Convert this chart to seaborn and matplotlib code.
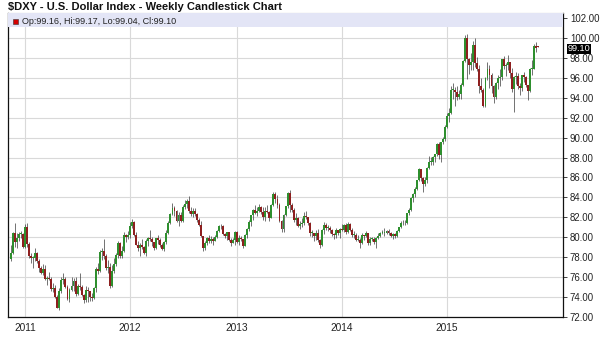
import numpy as np
import pandas as pd
import matplotlib
matplotlib.use("Agg")
import matplotlib.pyplot as plt
from matplotlib.patches import Rectangle
import matplotlib.transforms as mtransforms
import seaborn as sns

# weekly bars, first week starts Monday 2010-11-15
first_week = "2010-11-15"

open_ = [
    # 2010
    77.8, 78.4, 80.4, 79.5, 79.9, 80.3, 80.3,
    # 2011
    79.0, 81.0, 79.3, 78.1, 77.9, 77.9, 78.4, 77.6, 76.9, 76.4, 76.8, 75.8, 75.9,
    75.8, 74.8, 74.9, 74.0, 72.9, 74.6, 75.7, 75.8, 75.0, 73.8, 74.7, 75.1, 75.6,
    74.3, 75.1, 75.0, 74.2, 73.7, 74.7, 74.6, 74.0, 73.9, 74.9, 76.8, 76.6, 78.5,
    78.6, 78.1, 76.9, 77.0, 75.1, 76.6, 77.3, 78.2, 79.4, 78.1, 78.6, 80.2, 80.0,
    # 2012
    80.2, 81.1, 81.5, 80.2, 79.2, 78.9, 79.2, 79.0, 78.4, 79.6, 79.9, 79.8, 79.5,
    78.9, 79.9, 79.7, 79.2, 78.8, 79.5, 80.4, 81.4, 82.3, 82.9, 82.6, 81.6, 82.2,
    81.6, 83.0, 83.3, 83.6, 82.6, 82.3, 82.6, 82.3, 81.7, 81.2, 80.1, 78.9, 79.4,
    79.9, 79.6, 79.8, 79.6, 80.0, 80.6, 81.1, 81.1, 80.3, 80.1, 80.5, 79.7, 79.4, 79.7,
    # 2013
    80.5, 79.5, 79.9, 79.8, 79.1, 80.2, 80.8, 81.5, 82.2, 82.7, 82.4, 82.6, 83.0,
    82.5, 82.0, 82.6, 82.5, 81.9, 83.2, 84.3, 83.8, 83.2, 81.6, 80.8, 82.2, 83.1,
    84.4, 83.2, 82.7, 81.7, 81.9, 81.1, 81.3, 81.4, 82.1, 82.0, 81.4, 80.4, 80.4,
    80.1, 80.4, 79.7, 79.2, 80.7, 81.2, 80.9, 80.9, 80.7, 80.3, 80.2, 80.7, 80.4,
    # 2014
    80.8, 80.7, 81.2, 80.5, 81.3, 80.7, 80.2, 80.2, 79.7, 79.7, 79.4, 80.2, 80.1,
    80.4, 79.4, 79.8, 79.8, 79.5, 79.9, 80.1, 80.4, 80.4, 80.4, 80.6, 80.4, 80.1,
    80.3, 80.1, 80.6, 81.0, 81.4, 81.4, 81.4, 82.4, 82.7, 83.9, 84.3, 84.8, 85.7,
    86.8, 85.9, 85.3, 85.7, 86.9, 87.6, 87.6, 88.1, 88.4, 89.4, 88.3, 89.6, 89.9,
    # 2015
    91.1, 92.2, 92.5, 94.8, 94.8, 94.6, 94.1, 94.4, 95.3, 97.7, 100.0, 97.9, 97.3,
    97.6, 99.3, 97.5, 96.9, 95.2, 94.8, 93.2, 96.0, 96.9, 96.3, 95.2, 94.1, 95.5,
    96.0, 96.1, 97.9, 97.2, 97.3, 97.6, 96.5, 94.9, 96.1, 96.2, 95.2, 95.0, 96.3,
    96.1, 95.3, 94.7, 96.9, 96.9, 99.2, 99.16,
]

high = [
    # 2010
    79.2, 80.5, 81.4, 80.4, 80.5, 80.6, 80.4,
    # 2011
    81.3, 81.4, 79.5, 78.4, 78.1, 78.9, 78.5, 77.8, 77.1, 77.3, 77.2, 76.1, 76.5,
    76.0, 75.4, 75.2, 74.2, 74.9, 76.0, 76.4, 76.0, 75.2, 74.9, 76.0, 75.9, 76.0,
    75.3, 76.4, 75.2, 74.3, 75.1, 75.0, 74.6, 74.4, 75.0, 77.0, 77.4, 78.7, 78.9,
    79.8, 78.3, 77.7, 77.4, 77.2, 77.9, 78.4, 79.6, 79.5, 79.1, 80.5, 80.3, 80.6,
    # 2012
    81.5, 81.8, 81.6, 80.5, 79.6, 79.4, 79.8, 79.1, 79.8, 80.0, 80.7, 80.0, 79.5,
    79.9, 80.2, 79.9, 79.4, 79.6, 80.7, 81.6, 82.4, 83.4, 83.1, 82.7, 82.5, 82.5,
    83.2, 83.7, 83.8, 84.1, 83.0, 82.9, 82.9, 82.4, 81.9, 81.6, 80.1, 79.6, 80.0,
    80.2, 80.1, 80.0, 80.2, 80.7, 81.2, 81.3, 81.2, 80.4, 80.5, 80.5, 79.9, 79.9, 80.6,
    # 2013
    80.6, 80.2, 80.1, 79.8, 80.3, 80.9, 81.7, 82.2, 82.8, 83.2, 83.0, 83.3, 83.1,
    83.0, 83.0, 83.2, 82.6, 83.3, 84.5, 84.5, 84.2, 83.4, 81.7, 82.3, 83.1, 84.5,
    84.75, 83.4, 82.9, 82.4, 82.0, 81.6, 81.9, 82.5, 82.6, 82.0, 81.5, 80.7, 80.4,
    80.7, 80.8, 79.8, 80.8, 81.5, 81.4, 81.2, 81.1, 80.8, 80.4, 80.9, 80.7, 80.9,
    # 2014
    81.3, 81.3, 81.4, 81.5, 81.4, 80.9, 80.6, 80.4, 80.2, 79.9, 80.4, 80.2, 80.6,
    80.4, 80.0, 80.0, 80.0, 80.0, 80.4, 80.5, 80.7, 80.9, 80.7, 80.8, 80.5, 80.4,
    80.4, 80.7, 81.0, 81.6, 81.7, 81.7, 82.4, 82.9, 84.0, 84.4, 85.0, 85.7, 86.9,
    86.8, 86.0, 86.0, 87.0, 88.2, 88.1, 88.2, 88.4, 89.5, 89.6, 89.6, 90.1, 91.3,
    # 2015
    92.5, 93.0, 95.2, 95.5, 95.1, 95.2, 94.8, 95.5, 97.8, 100.3, 100.4, 98.0, 98.5,
    99.7, 100.0, 98.1, 97.3, 96.0, 95.0, 96.1, 97.6, 97.3, 96.5, 95.3, 95.6, 96.3,
    96.9, 97.9, 98.2, 97.5, 98.3, 97.6, 97.0, 96.2, 96.6, 96.5, 95.5, 96.3, 96.6,
    96.2, 95.3, 97.0, 97.8, 99.4, 99.6, 99.17,
]

low = [
    # 2010
    77.6, 78.3, 79.0, 78.9, 79.6, 79.9, 78.9,
    # 2011
    78.9, 79.0, 77.9, 77.4, 76.9, 77.6, 77.4, 76.5, 76.3, 76.2, 75.7, 75.2, 75.7,
    74.6, 74.5, 73.9, 72.9, 72.7, 74.4, 75.3, 74.9, 73.7, 73.5, 74.6, 74.6, 74.1,
    74.2, 74.7, 74.1, 73.4, 73.5, 73.5, 73.6, 73.6, 73.8, 74.5, 76.3, 76.5, 77.7,
    77.8, 76.7, 76.4, 74.9, 75.0, 76.4, 77.1, 77.9, 77.9, 77.9, 78.5, 79.5, 79.8,
    # 2012
    79.9, 80.9, 80.1, 79.2, 78.6, 78.1, 78.8, 78.3, 78.1, 79.1, 79.6, 79.1, 78.7,
    78.8, 79.3, 79.0, 78.7, 78.6, 79.3, 80.3, 81.3, 82.2, 82.1, 81.5, 81.1, 81.5,
    81.5, 82.8, 82.9, 82.4, 82.1, 82.0, 82.1, 81.5, 81.1, 80.0, 78.6, 78.7, 79.2,
    79.4, 79.4, 79.2, 79.6, 79.9, 80.5, 80.8, 80.2, 79.9, 79.7, 79.6, 79.1, 79.4, 79.2,
    # 2013
    79.4, 79.2, 79.6, 78.9, 79.1, 79.9, 80.6, 81.1, 81.7, 82.3, 82.1, 82.5, 82.3,
    81.7, 81.6, 82.4, 81.6, 81.9, 83.1, 83.4, 82.9, 81.5, 80.5, 80.5, 82.1, 82.9,
    82.5, 82.5, 81.5, 81.2, 81.0, 80.8, 81.0, 81.2, 81.8, 81.2, 80.1, 80.0, 79.6,
    79.7, 79.5, 78.9, 79.1, 80.3, 80.7, 80.6, 80.4, 80.1, 79.8, 79.9, 80.2, 79.9,
    # 2014
    80.6, 80.5, 80.3, 80.4, 80.6, 80.0, 79.9, 79.6, 79.6, 78.9, 79.3, 79.7, 80.0,
    79.2, 79.2, 79.6, 79.3, 78.9, 79.8, 80.0, 80.3, 80.1, 80.3, 80.2, 80.0, 79.8,
    79.9, 80.0, 80.5, 80.9, 81.2, 81.2, 81.3, 82.2, 82.6, 83.5, 84.0, 84.7, 85.6,
    85.6, 84.5, 85.1, 85.4, 86.8, 87.2, 87.3, 87.6, 88.2, 87.9, 87.6, 89.4, 89.7,
    # 2015
    91.0, 91.6, 92.4, 93.9, 93.2, 93.8, 93.9, 93.9, 95.2, 97.6, 95.9, 96.4, 96.8,
    96.8, 97.1, 96.7, 94.5, 94.6, 93.1, 93.1, 95.8, 95.0, 94.5, 93.5, 93.9, 94.9,
    95.2, 95.8, 96.9, 96.2, 96.8, 96.0, 94.6, 92.6, 95.4, 94.9, 94.3, 94.7, 95.6,
    95.1, 93.8, 94.6, 96.3, 96.9, 98.6, 99.04,
]

close = [
    # 2010
    78.4, 80.4, 79.5, 79.9, 80.3, 80.3, 79.0,
    # 2011
    81.0, 79.3, 78.1, 77.9, 77.9, 78.4, 77.6, 76.9, 76.4, 76.8, 75.8, 75.9, 75.8,
    74.8, 74.9, 74.0, 72.9, 74.6, 75.7, 75.8, 75.0, 73.8, 74.7, 75.1, 75.6, 74.3,
    75.1, 75.0, 74.2, 73.7, 74.7, 74.6, 74.0, 73.9, 74.9, 76.8, 76.6, 78.5, 78.6,
    78.1, 76.9, 77.0, 75.1, 76.6, 77.3, 78.2, 79.4, 78.1, 78.6, 80.2, 80.0, 80.2,
    # 2012
    81.1, 81.5, 80.2, 79.2, 78.9, 79.2, 79.0, 78.4, 79.6, 79.9, 79.8, 79.5, 78.9,
    79.9, 79.7, 79.2, 78.8, 79.5, 80.4, 81.4, 82.3, 82.9, 82.6, 81.6, 82.2, 81.6,
    83.0, 83.3, 83.6, 82.6, 82.3, 82.6, 82.3, 81.7, 81.2, 80.1, 78.9, 79.4, 79.9,
    79.6, 79.8, 79.6, 80.0, 80.6, 81.1, 81.1, 80.3, 80.1, 80.5, 79.7, 79.4, 79.7, 80.5,
    # 2013
    79.5, 79.9, 79.8, 79.1, 80.2, 80.8, 81.5, 82.2, 82.7, 82.4, 82.6, 83.0, 82.5,
    82.0, 82.6, 82.5, 81.9, 83.2, 84.3, 83.8, 83.2, 81.6, 80.8, 82.2, 83.1, 84.4,
    83.2, 82.7, 81.7, 81.9, 81.1, 81.3, 81.4, 82.1, 82.0, 81.4, 80.4, 80.4, 80.1,
    80.4, 79.7, 79.2, 80.7, 81.2, 80.9, 80.9, 80.7, 80.3, 80.2, 80.7, 80.4, 80.8,
    # 2014
    80.7, 81.2, 80.5, 81.3, 80.7, 80.2, 80.2, 79.7, 79.7, 79.4, 80.2, 80.1, 80.4,
    79.4, 79.8, 79.8, 79.5, 79.9, 80.1, 80.4, 80.4, 80.4, 80.6, 80.4, 80.1, 80.3,
    80.1, 80.6, 81.0, 81.4, 81.4, 81.4, 82.4, 82.7, 83.9, 84.3, 84.8, 85.7, 86.8,
    85.9, 85.3, 85.7, 86.9, 87.6, 87.6, 88.1, 88.4, 89.4, 88.3, 89.6, 89.9, 91.1,
    # 2015
    92.2, 92.5, 94.8, 94.8, 94.6, 94.1, 94.4, 95.3, 97.7, 100.0, 97.9, 97.3, 97.6,
    99.3, 97.5, 96.9, 95.2, 94.8, 93.2, 96.0, 96.9, 96.3, 95.2, 94.1, 95.5, 96.0,
    96.1, 97.9, 97.2, 97.3, 97.6, 96.5, 94.9, 96.1, 96.2, 95.2, 95.0, 96.3, 96.1,
    95.3, 94.7, 96.9, 96.9, 99.2, 99.0, 99.10,
]

year_labels = ["2011", "2012", "2013", "2014", "2015"]
legend_text = "Op:99.16, Hi:99.17, Lo:99.04, Cl:99.10"
title = "$DXY - U.S. Dollar Index - Weekly Candlestick Chart"

n = len(close)
assert len(open_) == n and len(high) == n and len(low) == n

df = pd.DataFrame({"open": open_, "high": high, "low": low, "close": close})
df["date"] = pd.date_range(first_week, periods=n, freq="7D")
df["bar"] = np.arange(n)
df["up"] = df["close"] >= df["open"]

# tick at the first weekly bar of each year
year_ticks = [df.index[df["date"].dt.year == int(y)][0] for y in year_labels]

sns.set_style("white")
plt.rcParams["font.family"] = ["Liberation Sans", "DejaVu Sans"]

fig = plt.figure(figsize=(6, 3.52), dpi=100)
ax = fig.add_axes([8 / 600, 35 / 352, 555 / 600, 304 / 352])

green = "#2e8f2e"
red = "#8e1f1f"

# wicks
ax.vlines(df["bar"], df["low"], df["high"], color="#3a3a3a", lw=0.5, zorder=2)
# bodies
body_lo = df[["open", "close"]].min(axis=1)
body_h = (df["close"] - df["open"]).abs().clip(lower=0.08)
ax.bar(df["bar"], body_h, bottom=body_lo, width=0.95,
       color=np.where(df["up"], green, red), edgecolor="none", zorder=3)

ax.set_xlim(-1.45, 273.4)
ax.set_ylim(72, 102.5)

ax.set_yticks(np.arange(72, 103, 2))
ax.set_yticklabels([f"{v:.2f}" for v in np.arange(72, 103, 2)])
ax.yaxis.tick_right()
ax.tick_params(axis="y", right=True, length=3, width=0.6, pad=2,
               labelsize=6.9, colors="#222222")
ax.set_xticks(year_ticks)
ax.set_xticklabels(year_labels)
ax.tick_params(axis="x", length=0, pad=4, labelsize=7.3, colors="#222222")

ax.grid(True, color="#d9d9d9", lw=0.8, zorder=0)
ax.set_axisbelow(True)
for side in ["left", "right", "bottom"]:
    ax.spines[side].set_color("#111111")
    ax.spines[side].set_linewidth(0.9)
ax.spines["top"].set_color("#9a9a9a")
ax.spines["top"].set_linewidth(0.8)

# header band with last values
band = Rectangle((0, 0.954), 1, 0.046, transform=ax.transAxes,
                 facecolor="#e3e5f6", edgecolor="none", zorder=4)
ax.add_patch(band)
sq = Rectangle((0.009, 0.963), 0.009, 0.0165, transform=ax.transAxes,
               facecolor="#d40000", edgecolor="#333333", lw=0.4, zorder=5)
ax.add_patch(sq)
ax.text(0.025, 0.9715, legend_text, transform=ax.transAxes, fontsize=6.5,
        va="center", ha="left", color="#222222", zorder=5)

# last close marker on right axis, nudged down a hair to clear the 100.00 label
trans = mtransforms.blended_transform_factory(ax.transAxes, ax.transData)
nudge = mtransforms.ScaledTranslation(0, -1.5 / 72, fig.dpi_scale_trans)
ax.text(1.008, close[-1], f"{close[-1]:.2f}", transform=trans + nudge,
        fontsize=6.6, color="white", va="center", ha="left",
        bbox=dict(boxstyle="square,pad=0.05", facecolor="black", edgecolor="none"))

fig.text(8 / 600, 1 - 6.5 / 352, title, fontsize=8.0, fontweight="bold",
         va="center", ha="left", color="#111111")

fig.savefig("out.png", dpi=100, facecolor="white")
